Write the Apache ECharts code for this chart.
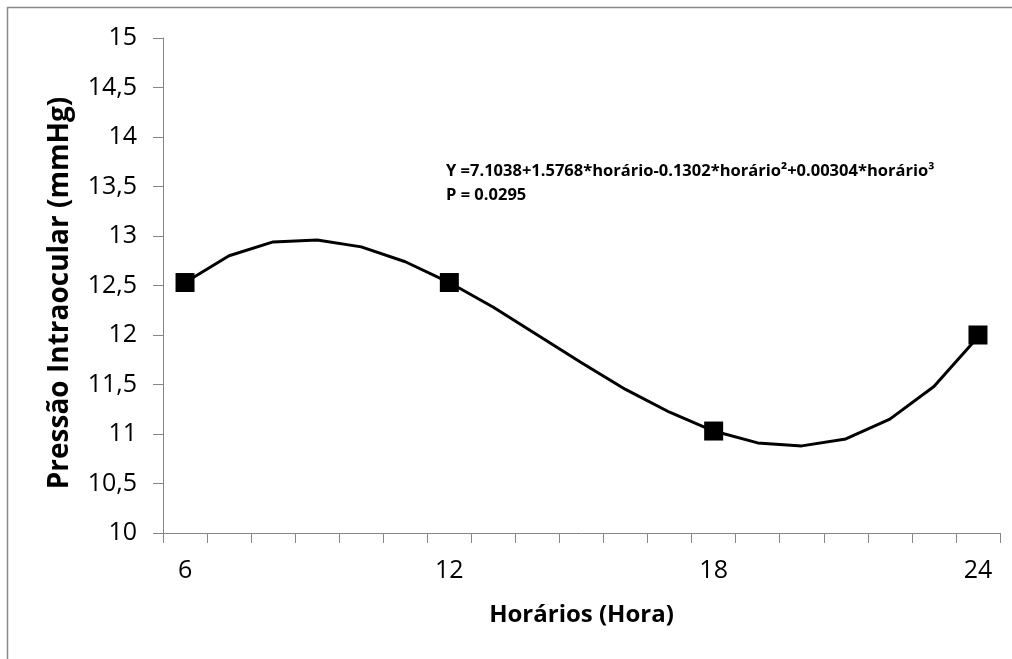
<!DOCTYPE html>
<html>
<head>
<meta charset="utf-8">
<script src="https://cdn.jsdelivr.net/npm/echarts@6/dist/echarts.min.js"></script>
<style>
html,body{margin:0;padding:0;background:#fff;}
#chart{width:1012px;height:659px;}
</style>
</head>
<body>
<div id="chart"></div>
<script>
// Data
var hours = ['6','7','8','9','10','11','12','13','14','15','16','17','18','19','20','21','22','23','24'];
var curveValues = [12.53, 12.80, 12.94, 12.96, 12.89, 12.74, 12.53, 12.28, 12.00, 11.72, 11.45, 11.22, 11.03, 10.91, 10.88, 10.95, 11.15, 11.48, 11.98];
var markerHours = ['6', '12', '18', '24'];
var markerValues = [12.53, 12.53, 11.03, 12.00];
var yTicks = { min: 10, max: 15, step: 0.5 };
var equationText = 'Y =7.1038+1.5768*horário-0.1302*horário²+0.00304*horário³';
var pText = 'P = 0.0295';
var yName = 'Pressão Intraocular (mmHg)';
var xName = 'Horários (Hora)';

var chart = echarts.init(document.getElementById('chart'), null, {renderer: 'canvas'});
var axisColor = '#868686';
var font = '"Open Sans", sans-serif';

chart.setOption({
  animation: false,
  backgroundColor: '#fff',
  grid: { left: 163, right: 12, top: 38, bottom: 126, containLabel: false },
  graphic: [
    { type: 'rect', shape: { x: 7.5, y: 7.5, width: 1020, height: 660 }, style: { fill: 'none', stroke: '#8a8a8a', lineWidth: 1.5 }, silent: true, z: 0 },
    { type: 'text', left: 446, top: 163, style: { text: equationText, font: 'bold 16.5px ' + font, fill: '#000' } },
    { type: 'text', left: 446, top: 187, style: { text: pText, font: 'bold 16.5px ' + font, fill: '#000' } },
    { type: 'text', x: 60, y: 293, rotation: Math.PI / 2,
      style: { text: yName, font: 'bold 28px ' + font, fill: '#000', align: 'center', verticalAlign: 'middle' } }
  ],
  xAxis: {
    type: 'category',
    data: hours,
    boundaryGap: true,
    name: xName,
    nameLocation: 'middle',
    nameGap: 70,
    nameTextStyle: { fontFamily: font, fontWeight: 'bold', fontSize: 24, color: '#000' },
    axisLine: { lineStyle: { color: axisColor, width: 1 } },
    axisTick: { show: true, length: 10, interval: 0, alignWithLabel: false, lineStyle: { color: axisColor } },
    axisLabel: { interval: 5, margin: 25, fontFamily: font, fontSize: 25, color: '#000' },
    splitLine: { show: false }
  },
  yAxis: {
    type: 'value',
    min: yTicks.min,
    max: yTicks.max,
    interval: yTicks.step,
    axisLine: { show: true, lineStyle: { color: axisColor, width: 1 } },
    axisTick: { show: true, length: 10, lineStyle: { color: axisColor } },
    axisLabel: { margin: 26, fontFamily: font, fontSize: 25, color: '#000',
      formatter: function (v) { return String(v).replace('.', ','); } },
    splitLine: { show: false }
  },
  series: [
    {
      type: 'line',
      data: curveValues,
      showSymbol: false,
      smooth: false,
      lineStyle: { color: '#000', width: 3 },
      z: 2
    },
    {
      type: 'scatter',
      data: markerHours.map(function (h, i) { return [h, markerValues[i]]; }),
      symbol: 'rect',
      symbolSize: 19,
      itemStyle: { color: '#000', opacity: 1 },
      z: 3
    }
  ]
});
</script>
</body>
</html>
